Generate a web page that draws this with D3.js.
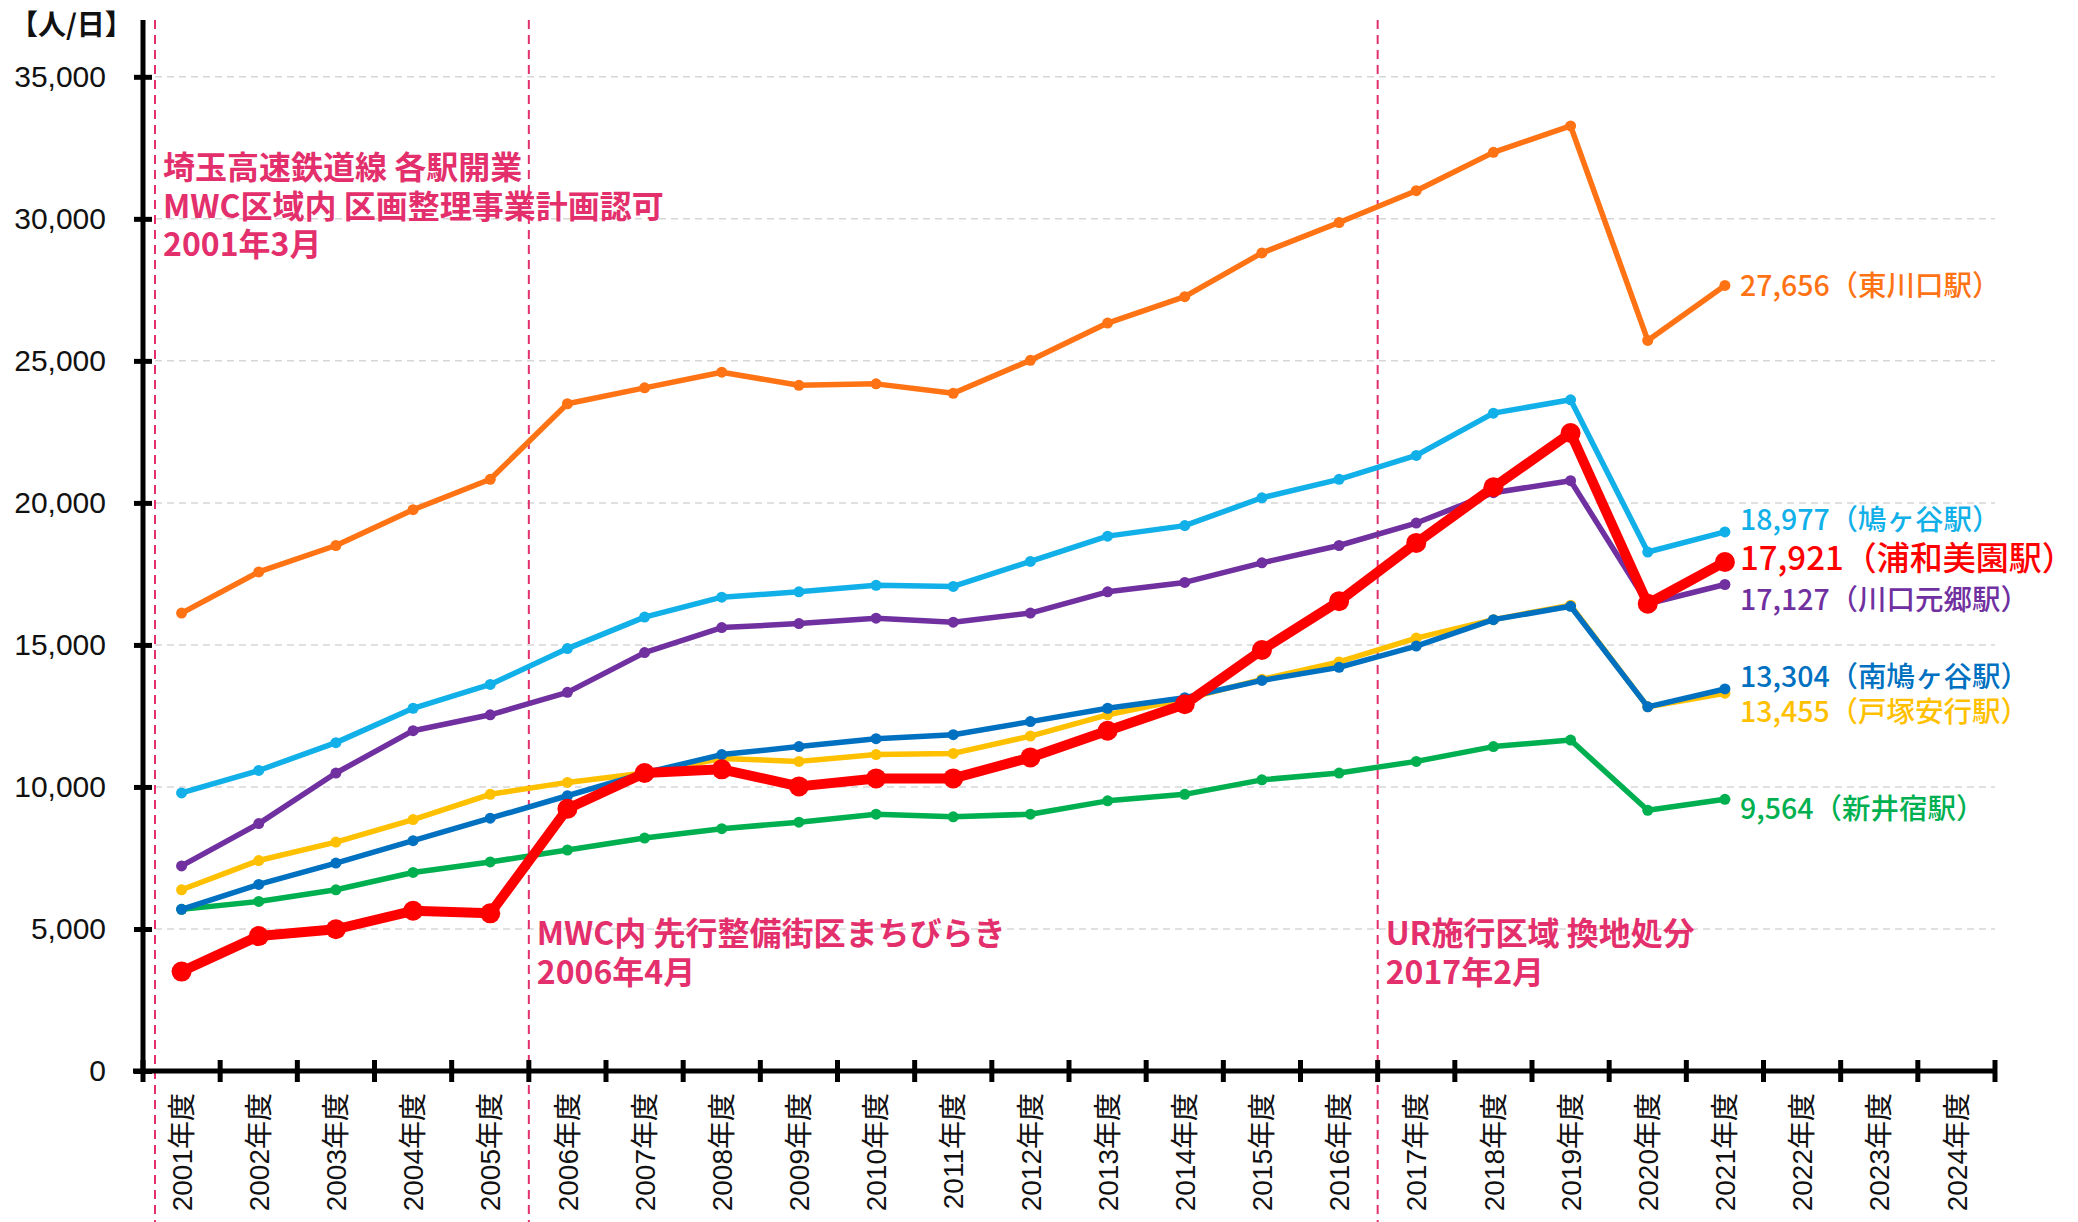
<!DOCTYPE html>
<html lang="ja">
<head>
<meta charset="UTF-8">
<title>駅別 乗車人員の推移</title>
<script src="https://d3js.org/d3.v7.min.js"></script>
<style>
  body { margin: 0; background: #fff; font-family: "Noto Sans CJK JP", sans-serif; }
  .grid line { stroke: #d6d6d6; stroke-width: 1.5; stroke-dasharray: 7 5; }
  .event line { stroke: #e3306c; stroke-width: 2; stroke-dasharray: 9 6; }
  .event text { fill: #e3306c; font-size: 32px; font-weight: 700; }
  .axis path, .axis line { stroke: #000; stroke-width: 5; }
  .yaxis text { font-family: "Liberation Sans", Arial, sans-serif; font-size: 30px; fill: #111; }
  .xaxis text { font-family: "Liberation Sans", "Noto Sans CJK JP", sans-serif; font-size: 28px; fill: #111; }
  .end-label { font-weight: 500; }
</style>
</head>
<body>
<svg id="chart" width="2078" height="1222"></svg>
<script>
// 年度（カテゴリ）
const years = ["2001年度", "2002年度", "2003年度", "2004年度", "2005年度", "2006年度", "2007年度", "2008年度",
               "2009年度", "2010年度", "2011年度", "2012年度", "2013年度", "2014年度", "2015年度", "2016年度",
               "2017年度", "2018年度", "2019年度", "2020年度", "2021年度", "2022年度", "2023年度", "2024年度"];

// 乗車人員【人/日】 2001〜2021年度
const higashikawaguchi = [16120, 17570, 18500, 19760, 20830, 23490, 24050, 24600, 24140, 24190, 23860,
                          25020, 26330, 27260, 28800, 29870, 30990, 32340, 33270, 25720, 27656];
const hatogaya        = [9790, 10580, 11560, 12770, 13610, 14870, 15980, 16680, 16870, 17100, 17060,
                          17940, 18830, 19200, 20180, 20830, 21670, 23160, 23630, 18270, 18977];
const kawaguchimotogo = [7220, 8710, 10490, 11980, 12540, 13330, 14730, 15610, 15750, 15940, 15800,
                          16120, 16870, 17200, 17890, 18500, 19290, 20360, 20780, 16450, 17127];
const araijuku        = [5690, 5970, 6380, 6990, 7360, 7780, 8200, 8530, 8760, 9040, 8950,
                          9040, 9510, 9740, 10250, 10490, 10900, 11420, 11650, 9180, 9564];
const totsukaangyo    = [6380, 7410, 8060, 8850, 9740, 10160, 10490, 11000, 10900, 11140, 11180,
                          11790, 12540, 13090, 13790, 14400, 15240, 15890, 16400, 12820, 13300];
const minamihatogaya  = [5690, 6570, 7320, 8110, 8900, 9690, 10490, 11140, 11420, 11700, 11840,
                          12300, 12770, 13140, 13750, 14210, 14960, 15890, 16360, 12820, 13450];
const urawamisono     = [3500, 4750, 4990, 5640, 5550, 9230, 10490, 10620, 10020, 10300, 10300,
                          11040, 11980, 12910, 14820, 16540, 18590, 20550, 22460, 16450, 17921];

const yTicks = [0, 5000, 10000, 15000, 20000, 25000, 30000, 35000];

// 出来事（年度の境目の位置）
const events = [
  { at: 0, lines: ["埼玉高速鉄道線 各駅開業", "MWC区域内 区画整理事業計画認可", "2001年3月"] },
  { at: 5, lines: ["MWC内 先行整備街区まちびらき", "2006年4月"] },
  { at: 16, lines: ["UR施行区域 換地処分", "2017年2月"] }
];

// 描画順（下から）
const series = [
  { name: "東川口駅",   values: higashikawaguchi, label: "27,656（東川口駅）",   color: "#ff7314" },
  { name: "鳩ヶ谷駅",   values: hatogaya,         label: "18,977（鳩ヶ谷駅）",   color: "#12b0e8" },
  { name: "川口元郷駅", values: kawaguchimotogo,  label: "17,127（川口元郷駅）", color: "#7030a0" },
  { name: "新井宿駅",   values: araijuku,         label: "9,564（新井宿駅）",    color: "#00b050" },
  { name: "戸塚安行駅", values: totsukaangyo,     label: "13,455（戸塚安行駅）", color: "#ffc000" },
  { name: "南鳩ヶ谷駅", values: minamihatogaya,   label: "13,304（南鳩ヶ谷駅）", color: "#0070c0" },
  { name: "浦和美園駅", values: urawamisono,      label: "17,921（浦和美園駅）", color: "#ff0000", main: true }
];

// ラベルの縦ずらし（重なり回避）
const labelDy = { "東川口駅": 0, "鳩ヶ谷駅": -12, "川口元郷駅": 15, "新井宿駅": 9,
                  "戸塚安行駅": 19, "南鳩ヶ谷駅": -12, "浦和美園駅": -4 };

const svg = d3.select("#chart");
const plotLeft = 143, plotRight = 1995, plotTop = 20, plotBottom = 1071;

const x = d3.scaleBand().domain(years).range([plotLeft, plotRight]).padding(0);
const y = d3.scaleLinear().domain([0, 37000]).range([plotBottom, plotTop]);
const cx = i => x(years[i]) + x.bandwidth() / 2;

// 目盛線
svg.append("g").attr("class", "grid")
  .selectAll("line").data(yTicks.filter(d => d > 0)).join("line")
  .attr("x1", plotLeft).attr("x2", plotRight)
  .attr("y1", d => y(d)).attr("y2", d => y(d));

// 出来事の縦線と文字
const ev = svg.append("g").attr("class", "event");
events.forEach((e, k) => {
  const ex = plotLeft + e.at * x.step() + (e.at === 0 ? 12 : 0);
  ev.append("line").attr("x1", ex).attr("x2", ex).attr("y1", plotTop).attr("y2", 1222);
  const y0 = k === 0 ? 179 : 945;
  e.lines.forEach((t, j) => {
    ev.append("text").attr("x", ex + 8).attr("y", y0 + j * 38.5).text(t);
  });
});

// 縦軸
const yAxis = svg.append("g").attr("class", "axis yaxis")
  .attr("transform", `translate(${plotLeft},0)`)
  .call(d3.axisLeft(y).tickValues(yTicks).tickFormat(d3.format(",")).tickSizeOuter(0).tickPadding(0));
yAxis.select(".domain").attr("d", `M0,${plotTop}V${plotBottom}`);
yAxis.selectAll(".tick line").attr("x1", -9).attr("x2", 9);
yAxis.selectAll(".tick text").attr("x", -37);

// 横軸
const xAxis = svg.append("g").attr("class", "axis xaxis")
  .attr("transform", `translate(0,${plotBottom})`)
  .call(d3.axisBottom(x).tickSize(0).tickSizeOuter(0));
xAxis.select(".domain").attr("d", `M${plotLeft - 10},0H${plotRight}`);
xAxis.selectAll(".tick text")
  .attr("transform", "rotate(-90)")
  .attr("text-anchor", "end")
  .attr("x", -22).attr("y", 0).attr("dy", "0.36em");
xAxis.append("g").selectAll("line")
  .data(d3.range(years.length + 1)).join("line")
  .attr("x1", i => plotLeft + i * x.step()).attr("x2", i => plotLeft + i * x.step())
  .attr("y1", -11).attr("y2", 11);

// 単位
svg.append("text").attr("x", 10).attr("y", 35)
  .attr("font-size", 28).attr("font-weight", 700).attr("fill", "#111")
  .text("【人/日】");

// 折れ線
const line = d3.line().x((d, i) => cx(i)).y(d => y(d));
series.forEach(s => {
  const g = svg.append("g");
  g.append("path").datum(s.values)
    .attr("fill", "none").attr("stroke", s.color)
    .attr("stroke-width", s.main ? 10 : 5.5).attr("stroke-linejoin", "round")
    .attr("d", line);
  g.selectAll("circle").data(s.values).join("circle")
    .attr("cx", (d, i) => cx(i)).attr("cy", d => y(d))
    .attr("r", s.main ? 10 : 5.5).attr("fill", s.color);
  const last = s.values.length - 1;
  g.append("text").attr("class", "end-label")
    .attr("x", cx(last) + 15).attr("y", y(s.values[last]) + labelDy[s.name])
    .attr("dy", "0.36em")
    .attr("fill", s.color)
    .attr("font-size", s.main ? 33 : 28.5)
    .attr("font-weight", s.main ? 700 : 500)
    .text(s.label);
});
</script>
</body>
</html>
